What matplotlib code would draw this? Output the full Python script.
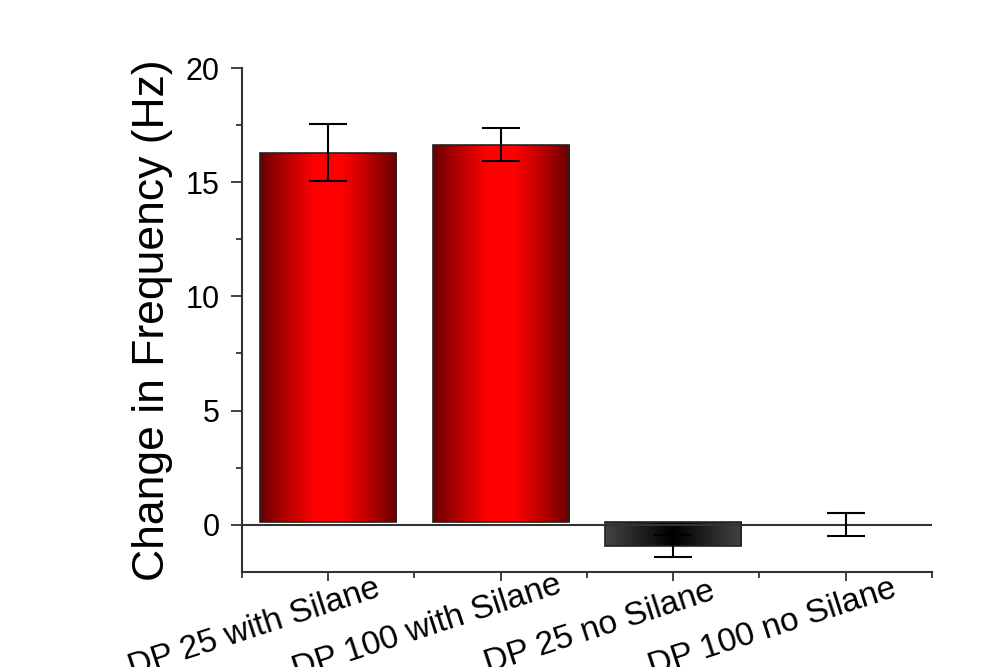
import numpy as np
import matplotlib
matplotlib.use('Agg')
import matplotlib.pyplot as plt
import matplotlib.transforms as mtransforms
from matplotlib.colors import LinearSegmentedColormap

categories = ['DP 25 with Silane', 'DP 100 with Silane', 'DP 25 no Silane', 'DP 100 no Silane']
values = [16.3, 16.65, -0.95, 0.0]
errors = [1.23, 0.73, 0.48, 0.51]
bar_kind = ['red', 'red', 'gray', 'red']

plt.rcParams['font.family'] = ['Liberation Sans', 'DejaVu Sans']

fig = plt.figure(figsize=(10, 6.67), dpi=100)
ax = fig.add_axes([0.242, 0.1424, 0.69, 0.7556])

red_cmap = LinearSegmentedColormap.from_list('redgrad', ['#6a0000', '#b80000', '#ff0000', '#ff0000', '#b80000', '#6a0000'])
gray_cmap = LinearSegmentedColormap.from_list('graygrad', ['#444444', '#222222', '#000000', '#222222', '#444444'])

x = np.arange(1, len(categories) + 1)
base = 0.1
width = 0.79
grad = np.linspace(0, 1, 256).reshape(1, -1)

for xi, v, kind in zip(x, values, bar_kind):
    if v == 0:
        continue
    bar = ax.bar(xi, v - base, bottom=base, width=width, facecolor='none',
                 edgecolor='#222222', linewidth=1.2, zorder=3)[0]
    lo, hi = sorted([base, v])
    im = ax.imshow(grad, cmap=red_cmap if kind == 'red' else gray_cmap, aspect='auto',
                   extent=[xi - width / 2, xi + width / 2, lo, hi], zorder=2)
    im.set_clip_path(bar)

ax.axhline(0, color='#333333', linewidth=1.5, zorder=4)
ax.errorbar(x, values, yerr=errors, fmt='none', ecolor='black', elinewidth=1.5,
            capsize=13.5, capthick=1.5, zorder=5)

ax.set_xlim(0.5, 4.5)
ax.set_ylim(-2.07, 20)

for side in ['top', 'right']:
    ax.spines[side].set_visible(False)
for side in ['left', 'bottom']:
    ax.spines[side].set_linewidth(1.5)
    ax.spines[side].set_color('#333333')

ax.set_yticks([0, 5, 10, 15, 20])
ax.set_yticks(np.arange(2.5, 20, 5), minor=True)
ax.tick_params(axis='y', which='major', labelsize=22, length=8, width=1.3, color='#333333', pad=8)
ax.tick_params(axis='y', which='minor', length=4.5, width=1.3, color='#333333')

ax.set_xticks(x)
ax.set_xticklabels([])
ax.set_xticks(np.arange(0.5, 4.6, 1), minor=True)
ax.tick_params(axis='x', which='major', length=6.5, width=1.3, color='#333333')
ax.tick_params(axis='x', which='minor', length=4.5, width=1.3, color='#333333')

# rotated category labels, centred left of each tick (partly cut by the figure edge)
trans = mtransforms.offset_copy(ax.get_xaxis_transform(), fig=fig, x=-0.71, y=-0.64, units='inches')
for xi, lab in zip(x, categories):
    ax.text(xi, 0, lab, transform=trans, rotation=18, rotation_mode='anchor',
            ha='center', va='baseline', fontsize=24, clip_on=False)

ax.set_ylabel('Change in Frequency (Hz)', fontsize=32)
ax.yaxis.set_label_coords(-0.1, 0.5)

fig.savefig('out.png', dpi=100)
